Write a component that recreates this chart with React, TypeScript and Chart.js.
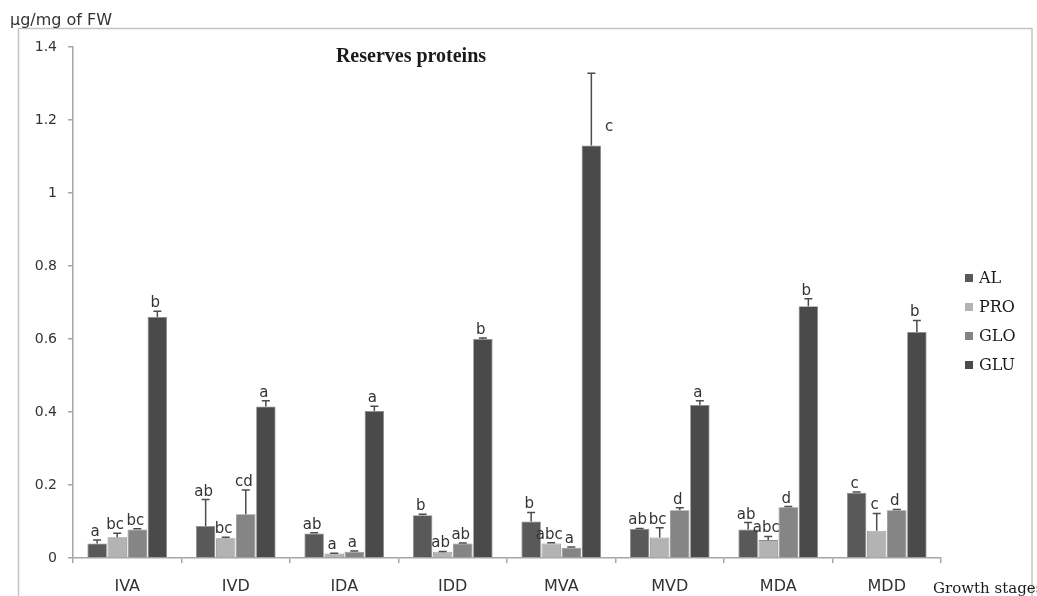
import React, { useEffect, useRef } from 'react';
import { Chart, registerables } from 'chart.js';

Chart.register(...registerables);

const categories = ['IVA', 'IVD', 'IDA', 'IDD', 'MVA', 'MVD', 'MDA', 'MDD'];
const seriesNames = ['AL', 'PRO', 'GLO', 'GLU'];
const seriesColors = ['#595959', '#b3b3b3', '#858585', '#4a4a4a'];

const alValues = [0.04, 0.088, 0.067, 0.117, 0.1, 0.08, 0.078, 0.179];
const proValues = [0.057, 0.054, 0.012, 0.017, 0.04, 0.056, 0.049, 0.075];
const gloValues = [0.078, 0.12, 0.017, 0.04, 0.028, 0.131, 0.139, 0.131];
const gluValues = [0.66, 0.415, 0.403, 0.6, 1.13, 0.419, 0.69, 0.619];

const alErrors = [0.009, 0.072, 0.002, 0.003, 0.025, 0.001, 0.019, 0.002];
const proErrors = [0.011, 0.003, 0.001, 0.001, 0.002, 0.027, 0.01, 0.047];
const gloErrors = [0.002, 0.066, 0.002, 0.001, 0.002, 0.007, 0.002, 0.002];
const gluErrors = [0.016, 0.016, 0.013, 0.003, 0.198, 0.012, 0.02, 0.032];

const alLetters = ['a', 'ab', 'ab', 'b', 'b', 'ab', 'ab', 'c'];
const proLetters = ['bc', 'bc', 'a', 'ab', 'abc', 'bc', 'abc', 'c'];
const gloLetters = ['bc', 'cd', 'a', 'ab', 'a', 'd', 'd', 'd'];
const gluLetters = ['b', 'a', 'a', 'b', 'c', 'a', 'b', 'b'];

const yTickValues = [0, 0.2, 0.4, 0.6, 0.8, 1, 1.2, 1.4];

const chartTitle = 'Reserves proteins';
const yAxisTitle = 'µg/mg of FW';
const xAxisTitle = 'Growth stages';

const allValues = [alValues, proValues, gloValues, gluValues];
const allErrors = [alErrors, proErrors, gloErrors, gluErrors];
const allLetters = [alLetters, proLetters, gloLetters, gluLetters];

const decorPlugin = {
  id: 'decor',
  beforeDraw(chart: any) {
    const ctx = chart.ctx;
    ctx.save();
    ctx.fillStyle = '#ffffff';
    ctx.fillRect(0, 0, chart.width, chart.height);
    ctx.strokeStyle = '#c4c4c4';
    ctx.lineWidth = 1.5;
    ctx.strokeRect(18.5, 28.5, 1013.5, 620);
    ctx.restore();
  },
  afterDatasetsDraw(chart: any) {
    const ctx = chart.ctx;
    const yScale = chart.scales.y;
    ctx.save();
    for (let d = 0; d < allValues.length; d++) {
      const meta = chart.getDatasetMeta(d);
      meta.data.forEach((bar: any, i: number) => {
        const v = allValues[d][i];
        const e = allErrors[d][i];
        const x = bar.x;
        const yTop = yScale.getPixelForValue(v);
        const yErr = yScale.getPixelForValue(v + e);
        ctx.strokeStyle = '#4d4d4d';
        ctx.lineWidth = 1.5;
        ctx.beginPath();
        ctx.moveTo(x, yTop);
        ctx.lineTo(x, yErr);
        ctx.moveTo(x - 4, yErr);
        ctx.lineTo(x + 4, yErr);
        ctx.stroke();
        ctx.fillStyle = '#333333';
        ctx.font = '15px "DejaVu Sans"';
        const txt = allLetters[d][i];
        if (e > 0.15) {
          ctx.textAlign = 'left';
          ctx.textBaseline = 'middle';
          ctx.fillText(txt, x + bar.width / 2 + 4, yScale.getPixelForValue(v + e * 0.25));
        } else {
          ctx.textAlign = 'center';
          ctx.textBaseline = 'alphabetic';
          ctx.fillText(txt, x - 2, yErr - 4);
        }
      });
    }
    ctx.restore();
  },
  afterDraw(chart: any) {
    const ctx = chart.ctx;
    ctx.save();
    ctx.fillStyle = '#333333';
    ctx.textBaseline = 'alphabetic';
    ctx.textAlign = 'left';
    ctx.font = '16px "DejaVu Sans"';
    ctx.fillText(yAxisTitle, 10, 25);
    ctx.font = '15px "DejaVu Serif"';
    ctx.fillStyle = '#1a1a1a';
    ctx.fillText(xAxisTitle, 933, 593);
    ctx.textAlign = 'center';
    ctx.font = 'bold 20px "Liberation Serif"';
    ctx.fillText(chartTitle, 411, 62);
    // legend
    ctx.textAlign = 'left';
    ctx.textBaseline = 'middle';
    ctx.font = '16px "DejaVu Serif"';
    const legendTop = 278;
    const legendGap = 29;
    seriesNames.forEach((name, k) => {
      const cy = legendTop + k * legendGap;
      ctx.fillStyle = seriesColors[k];
      ctx.fillRect(965, cy - 4, 8, 8);
      ctx.fillStyle = '#1a1a1a';
      ctx.fillText(name, 979, cy + 1);
    });
    ctx.restore();
  },
};

export default function App() {
  const canvasRef = useRef<HTMLCanvasElement | null>(null);

  useEffect(() => {
    document.body.style.margin = '0';
    const canvas = canvasRef.current;
    if (!canvas) return;
    const chart = new Chart(canvas, {
      type: 'bar',
      data: {
        labels: categories,
        datasets: seriesNames.map((name, k) => ({
          label: name,
          data: allValues[k],
          backgroundColor: seriesColors[k],
          borderColor: '#8c8c8c',
          borderWidth: 0.8,
          barPercentage: 0.97,
          categoryPercentage: 0.74,
        })),
      },
      options: {
        animation: false,
        responsive: false,
        maintainAspectRatio: false,
        devicePixelRatio: 1,
        layout: { padding: { left: 0, top: 47, right: 96, bottom: 0 } },
        plugins: {
          legend: { display: false },
          title: { display: false },
          tooltip: { enabled: false },
        },
        scales: {
          x: {
            type: 'category',
            offset: true,
            grid: {
              display: true,
              drawOnChartArea: false,
              offset: true,
              tickLength: 5,
              color: '#a6a6a6',
              lineWidth: 1.5,
            },
            border: { display: true, color: '#a6a6a6', width: 1.5 },
            ticks: {
              color: '#333333',
              font: { family: 'DejaVu Sans', size: 16 },
              padding: 14,
              maxRotation: 0,
              autoSkip: false,
            },
            afterFit: (s: any) => {
              s.height = 38;
            },
          },
          y: {
            type: 'linear',
            min: 0,
            max: 1.4,
            afterBuildTicks: (s: any) => {
              s.ticks = yTickValues.map((v) => ({ value: v }));
            },
            ticks: {
              color: '#333333',
              font: { family: 'DejaVu Sans', size: 14 },
              padding: 11,
              callback: (v: any) => String(Number(Number(v).toFixed(1))),
            },
            grid: {
              display: true,
              drawOnChartArea: false,
              tickLength: 5,
              color: '#a6a6a6',
              lineWidth: 1.5,
            },
            border: { display: true, color: '#a6a6a6', width: 1.5 },
            afterFit: (s: any) => {
              s.width = 73;
            },
          },
        },
      },
      plugins: [decorPlugin],
    } as any);
    return () => chart.destroy();
  }, []);

  return (
    <div style={{ position: 'fixed', left: 0, top: 0, width: 1037, height: 596, background: '#fff' }}>
      <canvas ref={canvasRef} width={1037} height={596} style={{ display: 'block', width: 1037, height: 596 }} />
    </div>
  );
}
